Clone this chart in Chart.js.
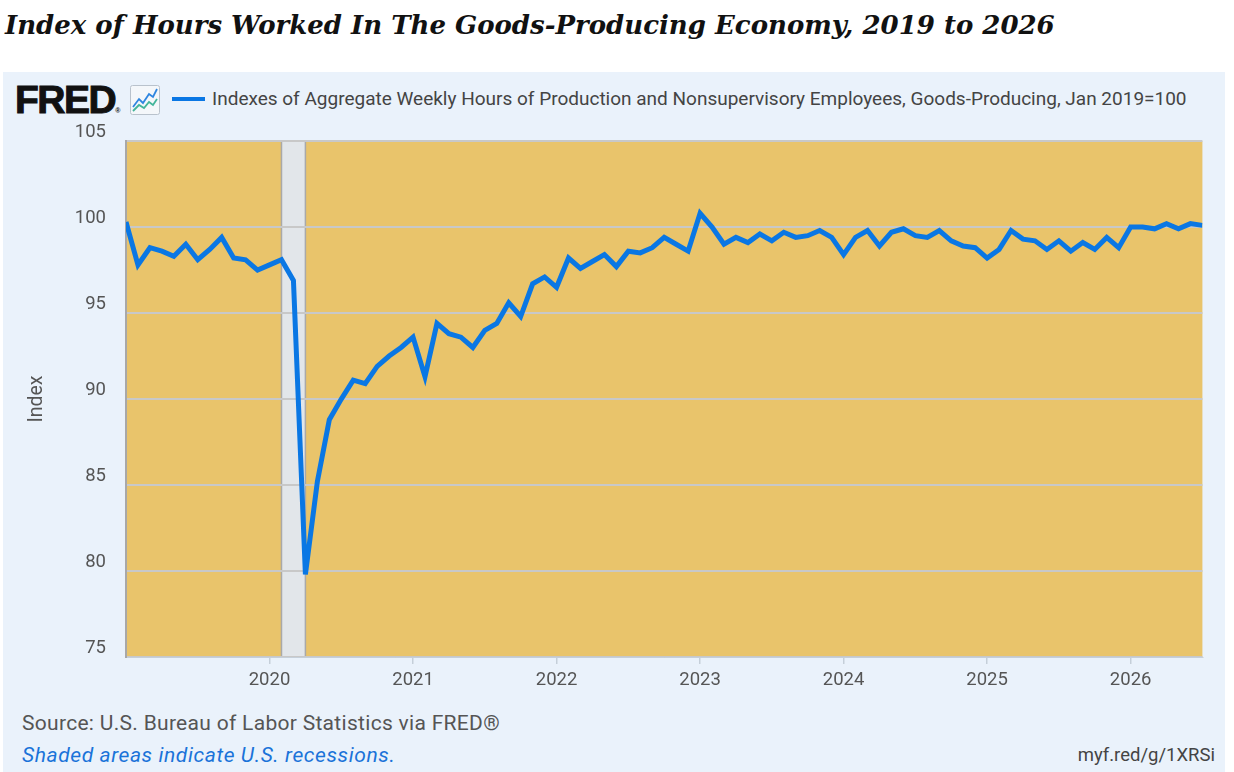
<!DOCTYPE html>
<html>
<head>
<meta charset="utf-8">
<script src="https://cdn.jsdelivr.net/npm/chart.js@4.4.1/dist/chart.umd.min.js"></script>
<style>
  html, body { margin: 0; padding: 0; background: #fff; }
  body { width: 1234px; height: 772px; position: relative; overflow: hidden; font-family: Roboto, "Liberation Sans", sans-serif; }
  .txt { position: absolute; white-space: nowrap; line-height: 24px; }
  #title { left: 5px; top: 10px; font: italic bold 26px "DejaVu Serif", Georgia, serif; color: #111; line-height: 30px; }
  #panel { position: absolute; left: 3px; top: 72px; width: 1222px; height: 700px; background: #eaf2fb; }
  #fred { left: 15px; top: 81px; font: bold 39px "Liberation Sans", Arial, sans-serif; color: #111; letter-spacing: -1.5px; line-height: 38px; -webkit-text-stroke: 1px #111; }
  #fred sup { font-size: 7px; letter-spacing: 0; vertical-align: 0; -webkit-text-stroke: 0; }
  #icon { position: absolute; left: 130px; top: 85px; }
  #legline { position: absolute; left: 172px; top: 97px; width: 33px; height: 4px; background: #0a77e4; }
  #legtxt { left: 212px; top: 87px; font-size: 19px; color: #444; }
  #source { left: 22px; top: 711px; font-size: 21px; letter-spacing: 0.3px; color: #555; }
  #shaded { left: 22px; top: 743px; font-size: 21px; letter-spacing: 0.6px; font-style: italic; color: #1a73d9; }
  #link { right: 19px; top: 743px; font-size: 18.5px; color: #444; }
  #chart { position: absolute; left: 0; top: 110px; }
</style>
</head>
<body>
<div id="title" class="txt">Index of Hours Worked In The Goods-Producing Economy, 2019 to 2026</div>
<div id="panel"></div>
<div id="fred" class="txt">FRED<sup>®</sup></div>
<svg id="icon" width="30" height="30" viewBox="0 0 30 30">
  <rect x="0.5" y="0.5" width="29" height="29" rx="2" fill="#f4f7fa" stroke="#b9c2cc"/>
  <polyline points="3,22 9,14 13,18 19,9 23,12 27,4" fill="none" stroke="#2f86e0" stroke-width="1.8"/>
  <polyline points="3,26 9,20 14,23 19,17 23,20 27,14" fill="none" stroke="#43b59a" stroke-width="1.8"/>
</svg>
<div id="legline"></div>
<div id="legtxt" class="txt">Indexes of Aggregate Weekly Hours of Production and Nonsupervisory Employees, Goods-Producing, Jan 2019=100</div>
<canvas id="chart" width="1234" height="590"></canvas>
<div id="source" class="txt">Source: U.S. Bureau of Labor Statistics via FRED®</div>
<div id="shaded" class="txt">Shaded areas indicate U.S. recessions.</div>
<div id="link" class="txt">myf.red/g/1XRSi</div>

<script>
// monthly index values, Jan 2019 = 100
var v2019 = [100.3, 97.8, 98.8, 98.6, 98.3, 99.0, 98.1, 98.7, 99.4, 98.2, 98.1, 97.5];
var v2020 = [97.8, 98.1, 96.9, 79.8, 85.2, 88.8, 90.0, 91.1, 90.9, 91.9, 92.5, 93.0];
var v2021 = [93.6, 91.3, 94.4, 93.8, 93.6, 93.0, 94.0, 94.4, 95.6, 94.8, 96.7, 97.1];
var v2022 = [96.5, 98.2, 97.6, 98.0, 98.4, 97.7, 98.6, 98.5, 98.8, 99.4, 99.0, 98.6];
var v2023 = [100.8, 100.0, 99.0, 99.4, 99.1, 99.6, 99.2, 99.7, 99.4, 99.5, 99.8, 99.4];
var v2024 = [98.4, 99.4, 99.8, 98.9, 99.7, 99.9, 99.5, 99.4, 99.8, 99.2, 98.9, 98.8];
var v2025 = [98.2, 98.7, 99.8, 99.3, 99.2, 98.7, 99.2, 98.6, 99.1, 98.7, 99.4, 98.8];
var v2026 = [100.0, 100.0, 99.9, 100.2, 99.9, 100.2, 100.1];

var years = [2019, 2020, 2021, 2022, 2023, 2024, 2025, 2026];
var yearTicks = [2020, 2021, 2022, 2023, 2024, 2025, 2026];
var yTicks = [75, 80, 85, 90, 95, 100, 105];
// recession start / end as [year, month index]
var recessions = [[[2020, 1], [2020, 3]]];

var byYear = [v2019, v2020, v2021, v2022, v2023, v2024, v2025, v2026];
var points = [];
byYear.forEach(function(vals, i) {
  vals.forEach(function(v, m) {
    points.push({ x: years[i] + m / 12, y: v });
  });
});

var plotBg = {
  id: 'plotBg',
  beforeDraw: function(chart) {
    var ctx = chart.ctx, a = chart.chartArea, xs = chart.scales.x;
    ctx.save();
    ctx.fillStyle = '#e9c46b';
    ctx.fillRect(a.left, a.top, a.right - a.left, a.bottom - a.top);
    recessions.forEach(function(r) {
      var x0 = xs.getPixelForValue(r[0][0] + r[0][1] / 12);
      var x1 = xs.getPixelForValue(r[1][0] + r[1][1] / 12);
      ctx.fillStyle = '#e2e6ea';
      ctx.fillRect(x0, a.top, x1 - x0, a.bottom - a.top);
      ctx.strokeStyle = '#a9a9a9';
      ctx.lineWidth = 1.5;
      ctx.beginPath();
      ctx.moveTo(x0, a.top); ctx.lineTo(x0, a.bottom);
      ctx.moveTo(x1, a.top); ctx.lineTo(x1, a.bottom);
      ctx.stroke();
    });
    ctx.restore();
  }
};

new Chart(document.getElementById('chart'), {
  type: 'line',
  data: {
    datasets: [{
      data: points,
      borderColor: '#0a77e4',
      borderWidth: 5,
      pointRadius: 0,
      tension: 0,
      fill: false
    }]
  },
  options: {
    responsive: false,
    animation: false,
    devicePixelRatio: 1,
    layout: { padding: { top: 30, right: 31.6, left: 0, bottom: 0 } },
    plugins: { legend: { display: false }, tooltip: { enabled: false } },
    scales: {
      x: {
        type: 'linear',
        min: 2019,
        max: 2019 + 90 / 12,
        afterBuildTicks: function(s) {
          s.ticks = yearTicks.map(function(v) { return { value: v }; });
        },
        afterFit: function(s) { s.height = 43; },
        ticks: {
          autoSkip: false, maxRotation: 0, padding: 5,
          color: '#555', font: { family: 'Roboto', size: 18.5 },
          callback: function(v) { return String(v); }
        },
        grid: { drawOnChartArea: false, drawTicks: true, tickLength: 7, tickColor: '#c5cfd9', lineWidth: 1.5 },
        border: { display: true, color: '#c5cfd9', width: 1 }
      },
      y: {
        min: 75,
        max: 105,
        afterBuildTicks: function(s) {
          s.ticks = yTicks.map(function(v) { return { value: v }; });
        },
        afterFit: function(s) { s.width = 126; },
        ticks: {
          padding: 20, labelOffset: -9,
          color: '#555', font: { family: 'Roboto', size: 18.5 }
        },
        grid: { drawTicks: false, color: '#c8c8c8', lineWidth: 2 },
        border: { display: true, color: '#a8a8a8', width: 2 },
        title: {
          display: true, text: 'Index', color: '#555',
          font: { family: 'Roboto', size: 19.5 },
          padding: { top: 25, bottom: 0 }
        }
      }
    }
  },
  plugins: [plotBg]
});
</script>
</body>
</html>
